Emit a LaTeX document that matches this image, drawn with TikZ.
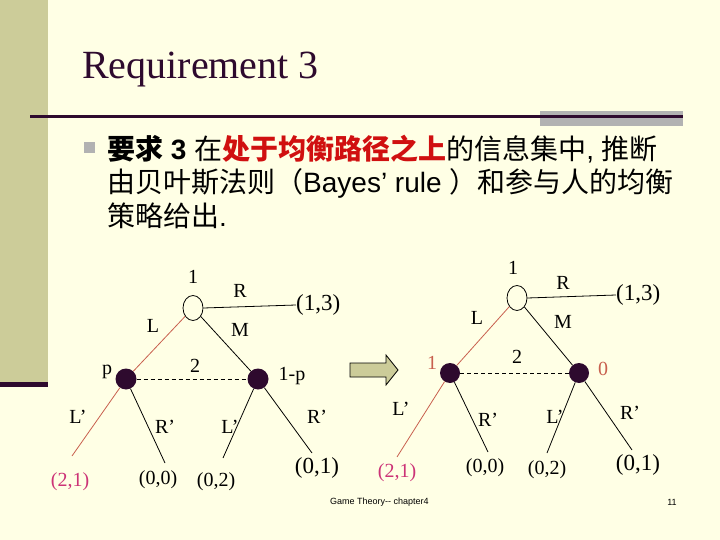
\documentclass[tikz,border=0pt]{standalone}
\usepackage{fontspec}
\setmainfont{Liberation Serif}
\newfontfamily\cjk{Noto Sans CJK SC}
\newfontfamily\arial{Liberation Sans}
\usepackage{xcolor}
\usepackage{tikz}
\usetikzlibrary{shapes.geometric}
\definecolor{slidebg}{HTML}{FFFFE5}
\definecolor{barx}{HTML}{CCCC99}
\definecolor{darkx}{HTML}{2E0A2E}
\definecolor{greyx}{HTML}{B2B2B2}
\definecolor{redx}{HTML}{D01010}
\definecolor{brownx}{HTML}{C8604E}
\definecolor{pinkx}{HTML}{CC3377}
\tikzset{
  rootnode/.style={draw,ellipse,line width=0.8pt,fill=slidebg,minimum width=20pt,minimum height=25pt,inner sep=0pt},
  infonode/.style={circle,fill=darkx,minimum size=21pt,inner sep=0pt},
  lab/.style={font=\fontsize{20}{24}\selectfont,inner sep=0pt},
  biglab/.style={font=\fontsize{23}{26}\selectfont,inner sep=0pt},
  body/.style={font=\arial\fontsize{28}{33}\selectfont,anchor=base west,inner sep=0pt},
  br/.style={line width=0.8pt},
  eq/.style={br,brownx}
}

\begin{document}
\begin{tikzpicture}[x=1pt,y=-1pt]
\useasboundingbox (0,0) rectangle (720,540);
\fill[slidebg] (0,0) rectangle (720,540);
\fill[barx] (0,0) rectangle (48,382);
\fill[darkx] (0,382) rectangle (48,387);
\fill[greyx] (540,111) rectangle (683,126);
\draw[darkx,line width=3pt] (30,117) -- (683,117);
\node[anchor=base west,inner sep=0pt,text=darkx,font=\fontsize{40}{44}\selectfont] (title) at (82,79) {Requirement 3};
% bullet text
\fill[greyx] (84,142) rectangle (95,153);
\node[body] (line1) at (107,160) {{\cjk\bfseries 要求} \textbf{3} {\cjk 在}{\cjk\bfseries\color{redx}处于均衡路径之上}{\cjk 的信息集中}, {\cjk 推断}};
\node[body] (line2) at (107,193) {{\cjk 由贝叶斯法则（}Bayes’ rule {\cjk ）和参与人的均衡}};
\node[body] (line3) at (107,226) {{\cjk 策略给出}.};
% left tree
\node[rootnode] (a0) at (193,308) {};
\node[infonode] (a1) at (126,379) {};
\node[infonode] (a2) at (258,379) {};
\node[biglab,anchor=west] (a13) at (296,305) {(1,3)};
\coordinate (a1l) at (72,456);
\coordinate (a1r) at (165,463);
\coordinate (a2l) at (223,458);
\coordinate (a2r) at (312,453);
\draw[br] (a0.east) -- (a13.west);
\draw[eq] (a0) -- (a1);
\draw[br] (a0) -- (a2);
\draw[br,dash pattern=on 4pt off 3pt] (a1) -- (a2);
\draw[eq] (a1) -- (a1l);
\draw[br] (a1) -- (a1r);
\draw[br] (a2) -- (a2l);
\draw[br] (a2) -- (a2r);
\node[lab] (a0p) at (193,277) {1};
\node[lab] (a0r) at (240,291) {R};
\node[lab] (a0l) at (153,326) {L};
\node[lab] (a0m) at (240,330) {M};
\node[lab] (a1p) at (107,372) {p};
\node[lab] (a2n) at (195,366) {2};
\node[lab] (a2p) at (292,376) {1-p};
\node[lab] (a1lb) at (78,417) {L’};
\node[lab] (a1rb) at (165,427) {R’};
\node[lab] (a2lb) at (230,427) {L’};
\node[lab] (a2rb) at (317,417) {R’};
\node[lab,text=pinkx] (a21) at (70,482) {(2,1)};
\node[lab] (a00) at (158,480) {(0,0)};
\node[lab] (a02) at (216,482) {(0,2)};
\node[biglab] (a01) at (317,468) {(0,1)};
% arrow
\draw[fill=barx,line width=0.8pt] (350,363) -- (386,363) -- (386,355) -- (398,370)
  -- (386,385) -- (386,377) -- (350,377) -- cycle;
% right tree
\node[rootnode] (b0) at (517,298) {};
\node[infonode,minimum size=20pt] (b1) at (450,373) {};
\node[infonode,minimum size=20pt] (b2) at (579,373) {};
\node[biglab,anchor=west] (b13) at (616,295) {(1,3)};
\coordinate (b1l) at (397,457);
\coordinate (b1r) at (488,452);
\coordinate (b2l) at (547,453);
\coordinate (b2r) at (632,450);
\draw[br] (b0.east) -- (b13.west);
\draw[eq] (b0) -- (b1);
\draw[br] (b0) -- (b2);
\draw[br,dash pattern=on 4pt off 3pt] (b1) -- (b2);
\draw[eq] (b1) -- (b1l);
\draw[br] (b1) -- (b1r);
\draw[br] (b2) -- (b2l);
\draw[br] (b2) -- (b2r);
\node[lab] (b0p) at (513,268) {1};
\node[lab] (b0r) at (563,283) {R};
\node[lab] (b0l) at (477,318) {L};
\node[lab] (b0m) at (563,322) {M};
\node[lab,text=brownx] (b1p) at (432,363) {1};
\node[lab] (b2n) at (517,357) {2};
\node[lab,text=brownx] (b2p) at (603,369) {0};
\node[lab] (b1lb) at (401,409) {L’};
\node[lab] (b1rb) at (488,420) {R’};
\node[lab] (b2lb) at (555,417) {L’};
\node[lab] (b2rb) at (630,413) {R’};
\node[lab,text=pinkx] (b21) at (397,473) {(2,1)};
\node[lab] (b00) at (485,468) {(0,0)};
\node[lab] (b02) at (547,470) {(0,2)};
\node[biglab] (b01) at (638,465) {(0,1)};
% footer
\node[font=\arial\fontsize{9}{11}\selectfont,inner sep=0pt,anchor=west] (foot) at (330,502) {Game Theory-- chapter4};
\node[font=\arial\fontsize{9}{11}\selectfont,inner sep=0pt] (page) at (672,502) {11};
\end{tikzpicture}
\end{document}
